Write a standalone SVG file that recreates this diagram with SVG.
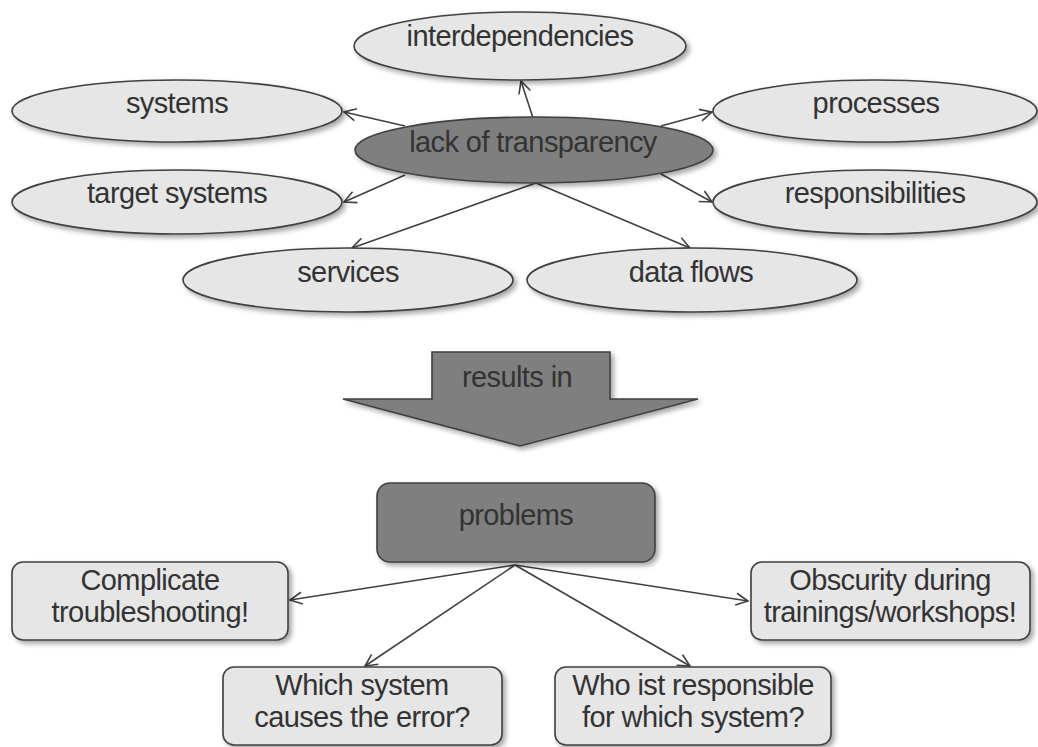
<svg xmlns="http://www.w3.org/2000/svg" width="1038" height="747" viewBox="0 0 1038 747">
  <defs>
    <filter id="shadow" x="-10%" y="-20%" width="125%" height="150%">
      <feDropShadow dx="3" dy="3" stdDeviation="2.5" flood-color="#000" flood-opacity="0.35"/>
    </filter>
    <marker id="arrow" viewBox="0 0 14 14" refX="13" refY="7" markerWidth="14" markerHeight="14" markerUnits="userSpaceOnUse" orient="auto">
      <path d="M1,1 L13,7 L1,13" fill="none" stroke="#404040" stroke-width="1.6"/>
    </marker>
    <style>
      .light { fill: #e6e6e6; stroke: #404040; stroke-width: 1.6; filter: url(#shadow); }
      .dark { fill: #7f7f7f; stroke: #404040; stroke-width: 1.6; filter: url(#shadow); }
      text { font-family: "Liberation Sans", Arial, sans-serif; font-size: 29px; fill: #333333; text-anchor: middle; letter-spacing: -0.6px; }
      .link { stroke: #404040; stroke-width: 1.6; fill: none; marker-end: url(#arrow); }
    </style>
  </defs>

  <rect width="1038" height="747" fill="#ffffff"/>

  <!-- connectors -->
  <g id="connectors">
    <line class="link" x1="533" y1="118" x2="521" y2="81"/>
    <line class="link" x1="405" y1="126" x2="344" y2="112"/>
    <line class="link" x1="405" y1="175" x2="344" y2="202"/>
    <line class="link" x1="536" y1="183" x2="352" y2="248"/>
    <line class="link" x1="536" y1="183" x2="690" y2="248"/>
    <line class="link" x1="661" y1="126" x2="712" y2="112"/>
    <line class="link" x1="661" y1="174" x2="712" y2="202"/>
    <line class="link" x1="515" y1="565" x2="290" y2="600"/>
    <line class="link" x1="515" y1="565" x2="365" y2="666"/>
    <line class="link" x1="515" y1="565" x2="748" y2="601"/>
    <line class="link" x1="515" y1="565" x2="690" y2="666"/>
  </g>

  <!-- top cluster: ellipses -->
  <g id="interdependencies">
    <ellipse class="light" cx="520" cy="46" rx="166" ry="34"/>
    <text x="520" y="46">interdependencies</text>
  </g>
  <g id="systems">
    <ellipse class="light" cx="177" cy="111" rx="165" ry="31"/>
    <text x="177" y="113">systems</text>
  </g>
  <g id="target-systems">
    <ellipse class="light" cx="177" cy="202" rx="165" ry="32"/>
    <text x="177" y="203">target systems</text>
  </g>
  <g id="services">
    <ellipse class="light" cx="348" cy="280" rx="165" ry="32"/>
    <text x="348" y="282">services</text>
  </g>
  <g id="processes">
    <ellipse class="light" cx="875" cy="111" rx="162" ry="31"/>
    <text x="876" y="113">processes</text>
  </g>
  <g id="responsibilities">
    <ellipse class="light" cx="875" cy="202" rx="162" ry="32"/>
    <text x="875" y="203">responsibilities</text>
  </g>
  <g id="data-flows">
    <ellipse class="light" cx="692" cy="280" rx="165" ry="32"/>
    <text x="691" y="282">data flows</text>
  </g>
  <g id="lack-of-transparency">
    <ellipse class="dark" cx="534" cy="150" rx="179" ry="33"/>
    <text x="533" y="152">lack of transparency</text>
  </g>

  <!-- block arrow -->
  <g id="results-in">
    <path class="dark" d="M432,352 L610,352 L610,399 L698,399 L520,446 L343,399 L432,399 Z"/>
    <text x="517" y="387">results in</text>
  </g>

  <!-- bottom cluster: boxes -->
  <g id="problems">
    <rect class="dark" x="377" y="483" width="278" height="79" rx="13"/>
    <text x="516" y="525">problems</text>
  </g>
  <g id="complicate-troubleshooting">
    <rect class="light" x="12" y="562" width="276" height="78" rx="11"/>
    <text x="150" y="590">Complicate</text>
    <text x="150" y="622">troubleshooting!</text>
  </g>
  <g id="which-system">
    <rect class="light" x="223" y="667" width="279" height="78" rx="11"/>
    <text x="362" y="695">Which system</text>
    <text x="362" y="727">causes the error?</text>
  </g>
  <g id="obscurity">
    <rect class="light" x="751" y="562" width="279" height="78" rx="11"/>
    <text x="890" y="590">Obscurity during</text>
    <text x="890" y="622">trainings/workshops!</text>
  </g>
  <g id="who-responsible">
    <rect class="light" x="555" y="667" width="276" height="78" rx="11"/>
    <text x="693" y="695">Who ist responsible</text>
    <text x="693" y="727">for which system?</text>
  </g>
</svg>
